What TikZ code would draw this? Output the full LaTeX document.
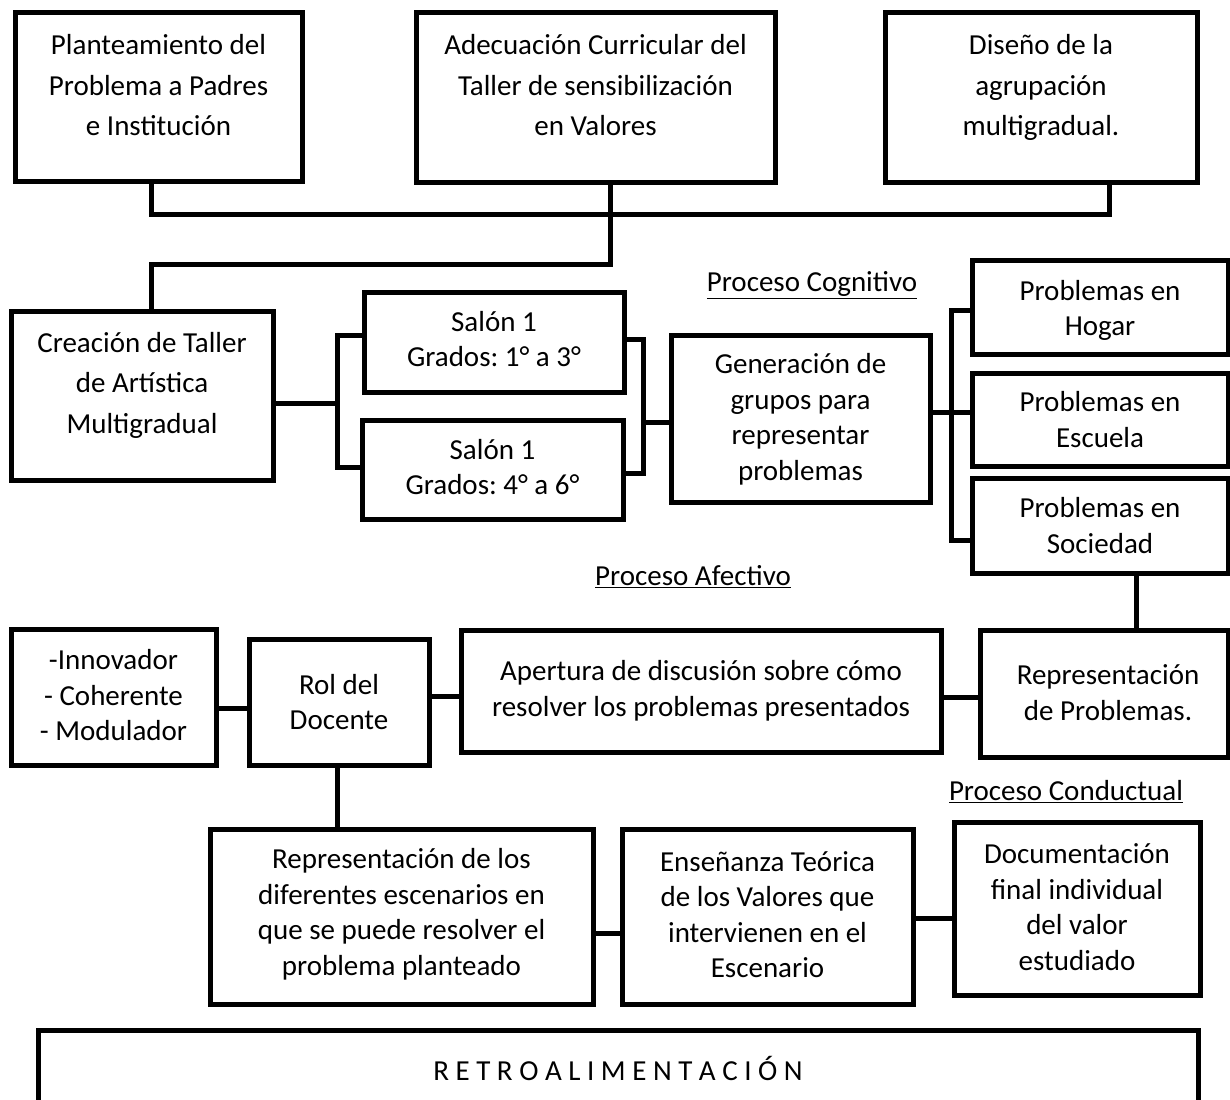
\documentclass[tikz,border=0pt]{standalone}
\usepackage{fontspec}
\setmainfont{Carlito}
\frenchspacing
\begin{document}
\begin{tikzpicture}[x=1pt,y=-1pt,
  box/.style={draw, line width=5pt, inner sep=0pt, fill=white},
  conn/.style={line width=5pt, line join=miter},
  txt/.style={align=center, inner sep=0pt, font=\fontsize{29}{35.5}\selectfont},
  bigtxt/.style={align=center, inner sep=0pt, font=\fontsize{29}{40.5}\selectfont},
  lbl/.style={inner sep=0pt, font=\fontsize{29}{35.5}\selectfont}]
\useasboundingbox[fill=white] (0,0) rectangle (1230,1099);

% boxes
\node[box, minimum width=287pt, minimum height=169pt] (a) at (158.5,97.5) {};
\node[box, minimum width=359pt, minimum height=170pt] (b) at (595.5,98) {};
\node[box, minimum width=312pt, minimum height=170pt] (c) at (1041,98) {};
\node[box, minimum width=262pt, minimum height=169pt] (cr) at (142,395.5) {};
\node[box, minimum width=260pt, minimum height=100pt] (s1) at (494,342) {};
\node[box, minimum width=261pt, minimum height=99pt] (s2) at (492.5,469.5) {};
\node[box, minimum width=259pt, minimum height=167pt] (gen) at (800.5,418.5) {};
\node[box, minimum width=256pt, minimum height=94pt] (hog) at (1100,307) {};
\node[box, minimum width=256pt, minimum height=93pt] (esc) at (1100,419.5) {};
\node[box, minimum width=256pt, minimum height=95pt] (soc) at (1100,525.5) {};
\node[box, minimum width=205pt, minimum height=136pt] (inn) at (113.5,697) {};
\node[box, minimum width=180pt, minimum height=126pt] (rol) at (339,702) {};
\node[box, minimum width=480pt, minimum height=122pt] (ap) at (701,691) {};
\node[box, minimum width=248pt, minimum height=127pt] (rep) at (1104,693.5) {};
\node[box, minimum width=383pt, minimum height=175pt] (rdl) at (401.5,916.5) {};
\node[box, minimum width=291pt, minimum height=175pt] (ens) at (767.5,916.5) {};
\node[box, minimum width=246pt, minimum height=173pt] (doc) at (1077,908.5) {};
\node[box, minimum width=1160pt, minimum height=100pt] (ret) at (618,1080) {};

% texts
\node[bigtxt] (ta) at (158.5,87) {\strut Planteamiento del\\Problema a Padres\\e Institución\strut};
\node[bigtxt] (tb) at (595.5,87) {\strut Adecuación Curricular del\\Taller de sensibilización\\en Valores\strut};
\node[bigtxt] (tc) at (1041,87) {\strut Diseño de la\\agrupación\\multigradual.\strut};
\node[bigtxt] (tcr) at (142,384.5) {\strut Creación de Taller\\de Artística\\Multigradual\strut};
\node[txt] (ts1) at (494,342) {\strut Salón 1\\Grados: 1° a 3°\strut};
\node[txt] (ts2) at (492.5,470) {\strut Salón 1\\Grados: 4° a 6°\strut};
\node[txt] (tgen) at (800.5,420) {\strut Generación de\\grupos para\\representar\\problemas\strut};
\node[txt] (thog) at (1100,311) {\strut Problemas en\\Hogar\strut};
\node[txt] (tesc) at (1100,422.5) {\strut Problemas en\\Escuela\strut};
\node[txt] (tsoc) at (1100,528.5) {\strut Problemas en\\Sociedad\strut};
\node[txt] (tinn) at (113.5,698) {\strut -Innovador\\- Coherente\\- Modulador\strut};
\node[txt] (trol) at (339,705) {\strut Rol del\\Docente\strut};
\node[txt] (tap) at (701,691.5) {\strut Apertura de discusión sobre cómo\\resolver los problemas presentados\strut};
\node[txt] (trep) at (1108,695.5) {\strut Representación\\de Problemas.\strut};
\node[txt] (trdl) at (401.5,915) {\strut Representación de los\\diferentes escenarios en\\que se puede resolver el\\problema planteado\strut};
\node[txt] (tens) at (767.5,917.5) {\strut Enseñanza Teórica\\de los Valores que\\intervienen en el\\Escenario\strut};
\node[txt] (tdoc) at (1077,910) {\strut Documentación\\final individual\\del valor\\estudiado\strut};
\node[lbl] (tret) at (618,1068) {R E T R O A L I M E N T A C I Ó N};

% process labels
\node[lbl] (pc) at (812,285) {\underline{Proceso Cognitivo}};
\node[lbl] (pa) at (693,577) {\underline{Proceso Afectivo}};
\node[lbl] (pcd) at (1066,792) {\underline{Proceso Conductual}};

% connectors
\draw[conn] ([xshift=-7.5pt]a.south) -- ++(0,30) -| ([xshift=68pt]c.south);
\draw[conn] ([xshift=14.5pt]b.south) -- ++(0,79) -| ([xshift=9pt]cr.north);

\coordinate (j1) at (337,335);
\coordinate (j2) at (337,467);
\coordinate (j3) at (337,403);
\draw[conn] (cr.east |- j3) -- (j3);
\draw[conn] (s1.west |- j1) -- (j1) -- (j2) -- (s2.west |- j2);

\coordinate (k1) at (643,339);
\coordinate (k2) at (643,473);
\coordinate (k3) at (643,422);
\draw[conn] (s1.east |- k1) -- (k1) -- (k2) -- (s2.east |- k2);
\draw[conn] (k3) -- (gen.west |- k3);

\coordinate (m1) at (951,310);
\coordinate (m2) at (951,540);
\coordinate (m3) at (951,412);
\draw[conn] (hog.west |- m1) -- (m1) -- (m2) -- (soc.west |- m2);
\draw[conn] (gen.east |- m3) -- (esc.west |- m3);

\coordinate (n1) at (1136,600);
\draw[conn] (soc.south -| n1) -- (rep.north -| n1);
\coordinate (p1) at (960,697);
\draw[conn] (rep.west |- p1) -- (ap.east |- p1);
\coordinate (q1) at (445,696);
\draw[conn] (ap.west |- q1) -- (rol.east |- q1);
\coordinate (r1) at (232,708);
\draw[conn] (rol.west |- r1) -- (inn.east |- r1);
\coordinate (t1) at (337,800);
\draw[conn] (rol.south -| t1) -- (rdl.north -| t1);
\coordinate (u1) at (607,933);
\draw[conn] (rdl.east |- u1) -- (ens.west |- u1);
\coordinate (v1) at (933,918);
\draw[conn] (ens.east |- v1) -- (doc.west |- v1);
\end{tikzpicture}
\end{document}
